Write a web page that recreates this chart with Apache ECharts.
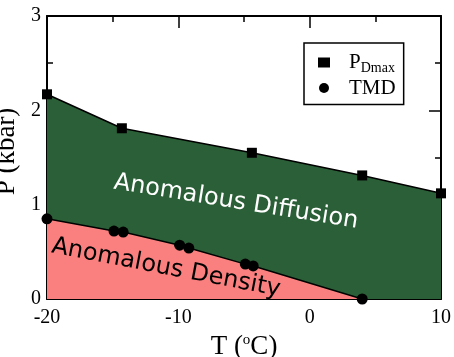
<!DOCTYPE html>
<html lang="en">
<head>
  <meta charset="UTF-8">
  <title>phase-diagram</title>
  <script src="https://cdn.jsdelivr.net/npm/echarts@6/dist/echarts.min.js"></script>
  <style>
    html, body {
      margin: 0;
      padding: 0;
      background: #fff;
    }

    #chart-main {
      width: 454px;
      height: 357px;
    }
  </style>
</head>
<body>
<div id="chart-main"></div>

<script type="text/javascript">
  // P_Dmax line (squares)
  const dmaxT = [-20, -14.3, -4.4, 4, 10]
  const dmaxP = [2.17, 1.81, 1.55, 1.31, 1.12]

  // TMD line (circles)
  const tmdT = [-20, -14.9, -14.2, -9.9, -9.2, -4.9, -4.3, 4]
  const tmdP = [0.85, 0.72, 0.71, 0.57, 0.54, 0.37, 0.35, 0]

  const xTicks = [-20, -10, 0, 10]
  const yTicks = [0, 1, 2, 3]

  const serif = '"Liberation Serif", "DejaVu Serif", serif'
  const sans = '"DejaVu Sans", sans-serif'

  let chart = echarts.init(document.getElementById('chart-main'))

  function pairs(xs, ys) {
    return xs.map((x, i) => [x, ys[i]])
  }

  // shared frame settings for the four sides
  function frameAxis(extra) {
    return Object.assign({
      type: 'value',
      axisLine: {show: true, onZero: false, lineStyle: {color: '#000', width: 2}},
      axisTick: {show: true, inside: true, length: 12, lineStyle: {color: '#000', width: 1.5}},
      minorTick: {show: true, splitNumber: 2, length: 6, lineStyle: {color: '#000', width: 1.5}},
      splitLine: {show: false}
    }, extra)
  }

  let option = {
    animation: false,
    grid: {
      left: 47,
      right: 13,
      top: 16,
      bottom: 58,
      containLabel: false,
      outerBoundsMode: 'none'
    },
    xAxis: [
      frameAxis({
        position: 'bottom',
        min: xTicks[0],
        max: xTicks[xTicks.length - 1],
        interval: 10,
        name: 'T ({sup|o}C)',
        nameLocation: 'middle',
        nameGap: 33,
        nameTextStyle: {
          fontFamily: serif,
          fontSize: 27,
          color: '#000',
          rich: {
            sup: {fontFamily: serif, fontSize: 15, color: '#000', verticalAlign: 'top', padding: [0, 0, 14, 0]}
          }
        },
        axisLabel: {fontFamily: serif, fontSize: 20, color: '#000', margin: 9}
      }),
      frameAxis({
        position: 'top',
        min: xTicks[0],
        max: xTicks[xTicks.length - 1],
        interval: 10,
        axisLabel: {show: false}
      })
    ],
    yAxis: [
      frameAxis({
        position: 'left',
        min: yTicks[0],
        max: yTicks[yTicks.length - 1],
        interval: 1,
        name: 'P (kbar)',
        nameLocation: 'middle',
        nameGap: 22,
        nameTextStyle: {fontFamily: serif, fontSize: 27, color: '#000', padding: [0, 0, 0, 12]},
        axisLabel: {fontFamily: serif, fontSize: 20, color: '#000', margin: 6}
      }),
      frameAxis({
        position: 'right',
        min: yTicks[0],
        max: yTicks[yTicks.length - 1],
        interval: 1,
        axisLabel: {show: false}
      })
    ],
    legend: {
      left: 304,
      top: 43,
      orient: 'vertical',
      padding: [9, 8, 6, 14],
      itemGap: 2,
      itemWidth: 12,
      itemHeight: 10,
      borderColor: '#000',
      borderWidth: 1.5,
      borderRadius: 0,
      backgroundColor: '#fff',
      textStyle: {
        fontFamily: serif,
        fontSize: 21,
        color: '#000',
        padding: [0, 0, 0, 14],
        rich: {
          sub: {fontFamily: serif, fontSize: 14, color: '#000', verticalAlign: 'bottom', padding: [12, 0, 0, 0]},
          main: {fontFamily: serif, fontSize: 21, color: '#000'}
        }
      },
      formatter: function (name) {
        return name === 'PDmax' ? '{main|P}{sub|Dmax}' : name
      },
      data: [
        {name: 'PDmax', icon: 'rect', itemStyle: {color: '#000'}},
        {name: 'TMD', icon: 'circle', itemStyle: {color: '#000'}}
      ]
    },
    graphic: [
      {
        type: 'text',
        x: 236,
        y: 202,
        rotation: -0.16,
        style: {
          text: 'Anomalous Diffusion',
          fontFamily: sans,
          fontSize: 24,
          fill: '#fff',
          align: 'center',
          verticalAlign: 'middle'
        },
        z: 100
      },
      {
        type: 'text',
        x: 166,
        y: 268,
        rotation: -0.19,
        style: {
          text: 'Anomalous Density',
          fontFamily: sans,
          fontSize: 24,
          fill: '#000',
          align: 'center',
          verticalAlign: 'middle'
        },
        z: 100
      }
    ],
    series: [
      {
        name: 'PDmax',
        type: 'line',
        data: pairs(dmaxT, dmaxP),
        symbol: 'rect',
        symbolSize: 10,
        itemStyle: {color: '#000'},
        lineStyle: {color: '#000', width: 1.5},
        areaStyle: {color: '#2b5f37', opacity: 1},
        z: 2
      },
      {
        name: 'TMD',
        type: 'line',
        data: pairs(tmdT, tmdP),
        symbol: 'circle',
        symbolSize: 11,
        itemStyle: {color: '#000'},
        lineStyle: {color: '#000', width: 1.5},
        areaStyle: {color: '#fa8080', opacity: 1},
        z: 3
      }
    ]
  }

  chart.setOption(option)
</script>
</body>
</html>
